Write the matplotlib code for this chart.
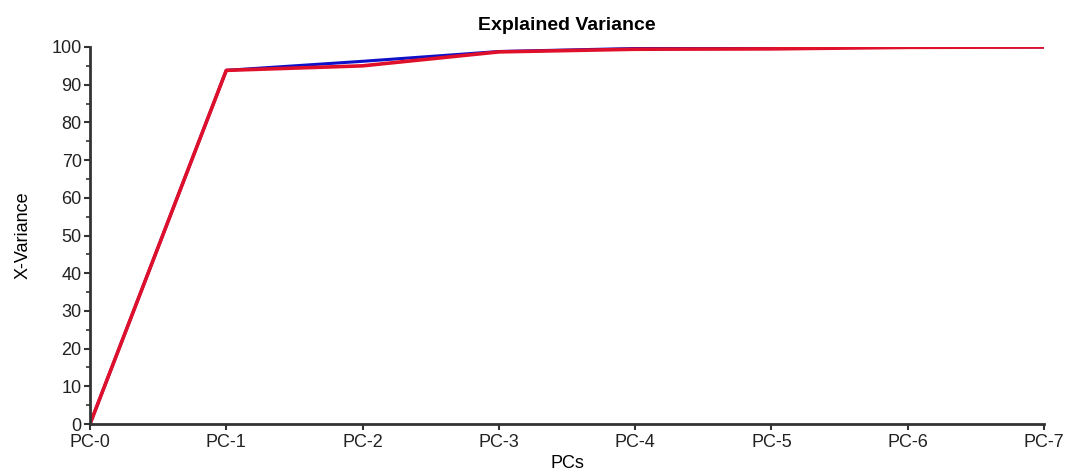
import matplotlib.pyplot as plt
from matplotlib.ticker import MultipleLocator

plt.rcParams['font.family'] = ['Liberation Sans', 'DejaVu Sans']

pcs = ["PC-0", "PC-1", "PC-2", "PC-3", "PC-4", "PC-5", "PC-6", "PC-7"]
calibrated = [0, 93.8, 96.2, 98.8, 99.6, 99.8, 100, 100]
validated = [0, 93.8, 95.0, 98.7, 99.4, 99.5, 99.9, 100]

fig = plt.figure(figsize=(10.79, 4.76), dpi=100)
ax = fig.add_axes([0.0834, 0.1092, 0.8842, 0.7921])

x = range(len(pcs))
ax.plot(x, calibrated, color="#1010c8", lw=2.2)
ax.plot(x, validated, color="#e0102a", lw=2.6)

ax.set_xlim(0, len(pcs) - 1)
ax.set_ylim(0, 100)
ax.set_xticks(list(x))
ax.set_xticklabels(pcs)
ax.yaxis.set_major_locator(MultipleLocator(10))
ax.yaxis.set_minor_locator(MultipleLocator(5))

for s in ["top", "right"]:
    ax.spines[s].set_visible(False)
for s in ["left", "bottom"]:
    ax.spines[s].set_color("#333333")
    ax.spines[s].set_linewidth(2)

ax.tick_params(axis="both", which="major", labelsize=13, colors="#333333",
               length=4, width=1.5, labelcolor="#222222", pad=2)
ax.tick_params(axis="x", which="major", pad=3)
ax.tick_params(axis="y", which="minor", length=3, width=1.2, colors="#333333")

ax.set_title("Explained Variance", fontsize=14, fontweight="bold", pad=12)
ax.set_xlabel("PCs", fontsize=13, labelpad=3)
ax.set_ylabel("X-Variance", fontsize=13, labelpad=14)

fig.savefig("out.png", dpi=100)
